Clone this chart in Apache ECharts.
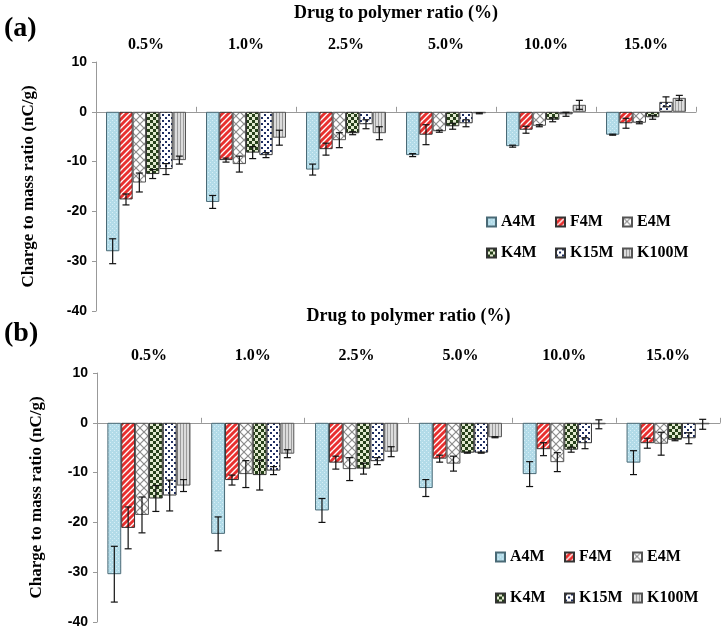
<!DOCTYPE html>
<html>
<head>
<meta charset="utf-8">
<script src="https://cdn.jsdelivr.net/npm/echarts@6/dist/echarts.min.js"></script>
<style>
html, body { margin: 0; padding: 0; background: #fff; }
#container { width: 723px; height: 632px; }
</style>
</head>
<body>
<div id="container"></div>
<script>
var groups = ['0.5%', '1.0%', '2.5%', '5.0%', '10.0%', '15.0%'];
var polymers = ['A4M', 'F4M', 'E4M', 'K4M', 'K15M', 'K100M'];

// panel (a) means, one row per polymer
var meanA_A4M = [-28.0, -18.1, -11.6, -8.7, -6.9, -4.6];
var meanA_F4M = [-17.6, -9.7, -7.5, -4.6, -3.6, -2.3];
var meanA_E4M = [-14.2, -10.5, -5.7, -3.9, -2.8, -2.2];
var meanA_K4M = [-12.5, -8.2, -4.3, -2.9, -1.6, -1.1];
var meanA_K15M = [-11.5, -8.7, -2.5, -2.3, -0.5, 2.0];
var meanA_K100M = [-9.7, -5.2, -4.3, -0.3, 1.4, 2.8];
// panel (a) error (+/-)
var errA_A4M = [2.5, 1.3, 1.1, 0.3, 0.2, 0.1];
var errA_F4M = [1.1, 0.4, 1.2, 2.0, 0.7, 1.0];
var errA_E4M = [1.9, 1.6, 1.5, 0.2, 0.2, 0.2];
var errA_K4M = [0.9, 1.2, 0.3, 0.6, 0.4, 0.4];
var errA_K15M = [1.1, 0.5, 0.9, 0.7, 0.4, 1.0];
var errA_K100M = [0.8, 1.5, 1.3, 0.1, 0.9, 0.5];

// panel (b)
var meanB_A4M = [-30.4, -22.3, -17.6, -13.1, -10.3, -8.0];
var meanB_F4M = [-21.1, -11.5, -8.0, -7.2, -5.3, -4.1];
var meanB_E4M = [-18.5, -10.3, -9.3, -8.2, -7.9, -4.2];
var meanB_K4M = [-15.2, -10.5, -9.2, -6.0, -5.4, -3.4];
var meanB_K15M = [-14.6, -9.6, -7.7, -6.0, -4.1, -3.1];
var meanB_K100M = [-12.6, -6.2, -5.8, -2.9, -0.3, -0.3];
var errB_A4M = [5.6, 3.4, 2.4, 1.7, 2.5, 2.4];
var errB_F4M = [4.2, 1.0, 1.3, 0.7, 1.3, 1.0];
var errB_E4M = [3.6, 2.7, 2.3, 1.5, 1.9, 2.3];
var errB_K4M = [2.6, 3.0, 1.1, 0.1, 0.5, 0.2];
var errB_K15M = [3.1, 0.8, 0.7, 0.1, 1.1, 1.1];
var errB_K100M = [1.2, 0.8, 1.0, 0.1, 0.9, 1.0];

var meansA = [meanA_A4M, meanA_F4M, meanA_E4M, meanA_K4M, meanA_K15M, meanA_K100M];
var errsA = [errA_A4M, errA_F4M, errA_E4M, errA_K4M, errA_K15M, errA_K100M];
var meansB = [meanB_A4M, meanB_F4M, meanB_E4M, meanB_K4M, meanB_K15M, meanB_K100M];
var errsB = [errB_A4M, errB_F4M, errB_E4M, errB_K4M, errB_K15M, errB_K100M];

var SERIF = '"Liberation Serif", "Times New Roman", serif';
var SANS = '"Liberation Sans", Arial, sans-serif';

function makePattern(w, h, draw) {
    var c = document.createElement('canvas');
    c.width = w; c.height = h;
    var ctx = c.getContext('2d');
    draw(ctx, w, h);
    return { image: c, repeat: 'repeat' };
}

var patterns = [
    // A4M light blue
    makePattern(4, 4, function (ctx) {
        ctx.fillStyle = '#b2dbe8'; ctx.fillRect(0, 0, 4, 4);
        ctx.fillStyle = '#d6eef6'; ctx.fillRect(0, 0, 1, 1); ctx.fillRect(2, 2, 1, 1);
    }),
    // F4M red diagonal
    makePattern(6, 6, function (ctx) {
        ctx.fillStyle = '#fff'; ctx.fillRect(0, 0, 6, 6);
        ctx.strokeStyle = '#e8302f'; ctx.lineWidth = 3;
        for (var k = 0; k <= 12; k += 6) {
            ctx.beginPath(); ctx.moveTo(k - 7, 7); ctx.lineTo(k + 1, -1); ctx.stroke();
        }
    }),
    // E4M grey crosshatch
    makePattern(8, 8, function (ctx) {
        ctx.fillStyle = '#fff'; ctx.fillRect(0, 0, 8, 8);
        ctx.strokeStyle = '#8c8c8c'; ctx.lineWidth = 1.2;
        for (var k = -8; k <= 8; k += 8) {
            ctx.beginPath(); ctx.moveTo(k - 1, -1); ctx.lineTo(k + 9, 9); ctx.stroke();
            ctx.beginPath(); ctx.moveTo(k - 1, 9); ctx.lineTo(k + 9, -1); ctx.stroke();
        }
    }),
    // K4M checkerboard
    makePattern(6, 6, function (ctx) {
        ctx.fillStyle = '#e2ead0'; ctx.fillRect(0, 0, 6, 6);
        ctx.fillStyle = '#26401a'; ctx.fillRect(0, 0, 3, 3); ctx.fillRect(3, 3, 3, 3);
    }),
    // K15M dots
    makePattern(6, 6, function (ctx) {
        ctx.fillStyle = '#fff'; ctx.fillRect(0, 0, 6, 6);
        ctx.fillStyle = '#1f2f62'; ctx.fillRect(0, 0, 2, 2); ctx.fillRect(3, 3, 2, 2);
    }),
    // K100M vertical lines
    makePattern(3, 3, function (ctx) {
        ctx.fillStyle = '#dcdcdc'; ctx.fillRect(0, 0, 3, 3);
        ctx.fillStyle = '#9c9c9c'; ctx.fillRect(0, 0, 1, 3);
    })
];
var borders = ['#4a6a76', '#333', '#555', '#333', '#333', '#555'];

var dom = document.getElementById('container');
var myChart = echarts.init(dom);

function barSeries(k, xi, yi, means) {
    return {
        name: polymers[k],
        type: 'bar',
        xAxisIndex: xi,
        yAxisIndex: yi,
        data: means,
        barGap: '0%',
        barCategoryGap: '20%',
        itemStyle: { color: patterns[k], borderColor: borders[k], borderWidth: 1 },
        emphasis: { disabled: true }
    };
}

function errorSeries(k, xi, yi, means, errs) {
    return {
        type: 'custom',
        xAxisIndex: xi,
        yAxisIndex: yi,
        z: 10,
        silent: true,
        data: means.map(function (m, i) { return [i, m - errs[i], m + errs[i]]; }),
        encode: { x: 0, y: [1, 2] },
        renderItem: function (params, api) {
            var lo = api.coord([api.value(0), api.value(1)]);
            var hi = api.coord([api.value(0), api.value(2)]);
            var band = api.size([1, 0])[0];
            var bw = band * 0.8 / 6;
            var x = lo[0] - band * 0.4 + bw * (k + 0.5);
            var c = 3.5;
            var st = { stroke: '#111', lineWidth: 1.2 };
            return {
                type: 'group',
                children: [
                    { type: 'line', shape: { x1: x, y1: lo[1], x2: x, y2: hi[1] }, style: st },
                    { type: 'line', shape: { x1: x - c, y1: lo[1], x2: x + c, y2: lo[1] }, style: st },
                    { type: 'line', shape: { x1: x - c, y1: hi[1], x2: x + c, y2: hi[1] }, style: st }
                ]
            };
        }
    };
}

function zeroAxis(gi) {
    return {
        type: 'category', gridIndex: gi, data: groups, position: 'bottom',
        axisLine: { onZero: true, lineStyle: { color: '#999', width: 1 } },
        axisTick: { show: true, inside: true, length: 5, lineStyle: { color: '#999' } },
        axisLabel: { show: false }
    };
}
function labelAxis(gi, gap) {
    return {
        type: 'category', gridIndex: gi, data: groups, position: 'top',
        axisLine: { show: false, onZero: false }, axisTick: { show: false },
        axisLabel: { margin: 9, color: '#000', fontFamily: SERIF, fontWeight: 'bold', fontSize: 16 },
        name: 'Drug to polymer ratio (%)', nameLocation: 'middle', nameGap: gap,
        nameTextStyle: { color: '#000', fontFamily: SERIF, fontWeight: 'bold', fontSize: 18 }
    };
}
function valAxis(gi, gap) {
    return {
        type: 'value', gridIndex: gi, min: -40, max: 10, interval: 10,
        axisLine: { show: true, lineStyle: { color: '#999' } },
        axisTick: { show: true, length: 4, lineStyle: { color: '#999' } },
        splitLine: { show: false },
        axisLabel: { margin: 9, color: '#000', fontFamily: SANS, fontWeight: 'bold', fontSize: 14 },
        name: 'Charge to mass ratio (nC/g)', nameLocation: 'middle', nameRotate: 90, nameGap: gap,
        nameTextStyle: { color: '#000', fontFamily: SERIF, fontWeight: 'bold', fontSize: 17 }
    };
}
// one legend per item so the icons sit on a fixed 68px pitch
function legendItem(name, left, top) {
    return {
        data: [name], left: left, top: top, orient: 'horizontal', padding: 0,
        icon: 'rect', itemWidth: 9, itemHeight: 9, itemGap: 4, selectedMode: false,
        textStyle: { color: '#000', fontFamily: SERIF, fontWeight: 'bold', fontSize: 16 }
    };
}

var series = [];
for (var k = 0; k < 6; k++) series.push(barSeries(k, 0, 0, meansA[k]));
for (var k = 0; k < 6; k++) series.push(barSeries(k, 2, 1, meansB[k]));
for (var k = 0; k < 6; k++) series.push(errorSeries(k, 0, 0, meansA[k], errsA[k]));
for (var k = 0; k < 6; k++) series.push(errorSeries(k, 2, 1, meansB[k], errsB[k]));

var legendLeftA = [486, 555, 622];
var legendLeftB = [495, 564, 632];
var legends = [];
for (var k = 0; k < 6; k++) {
    var col = k % 3, row = Math.floor(k / 3);
    legends.push(legendItem(polymers[k], legendLeftA[col], row ? 245 : 214));
    legends.push(legendItem(polymers[k], legendLeftB[col], row ? 590 : 549));
}

var option = {
    backgroundColor: '#fff',
    animation: false,
    grid: [
        { left: 96, right: 27, top: 62, height: 249 },
        { left: 97, right: 3, top: 373, height: 249 }
    ],
    xAxis: [zeroAxis(0), labelAxis(0, 40), zeroAxis(1), labelAxis(1, 48)],
    yAxis: [valAxis(0, 59), valAxis(1, 52)],
    legend: legends,
    graphic: [
        { type: 'text', left: 4, top: 15, style: { text: '(a)', font: 'bold 28px ' + SERIF, fill: '#000' } },
        { type: 'text', left: 4, top: 320, style: { text: '(b)', font: 'bold 28px ' + SERIF, fill: '#000' } }
    ],
    series: series
};

myChart.setOption(option);
</script>
</body>
</html>
